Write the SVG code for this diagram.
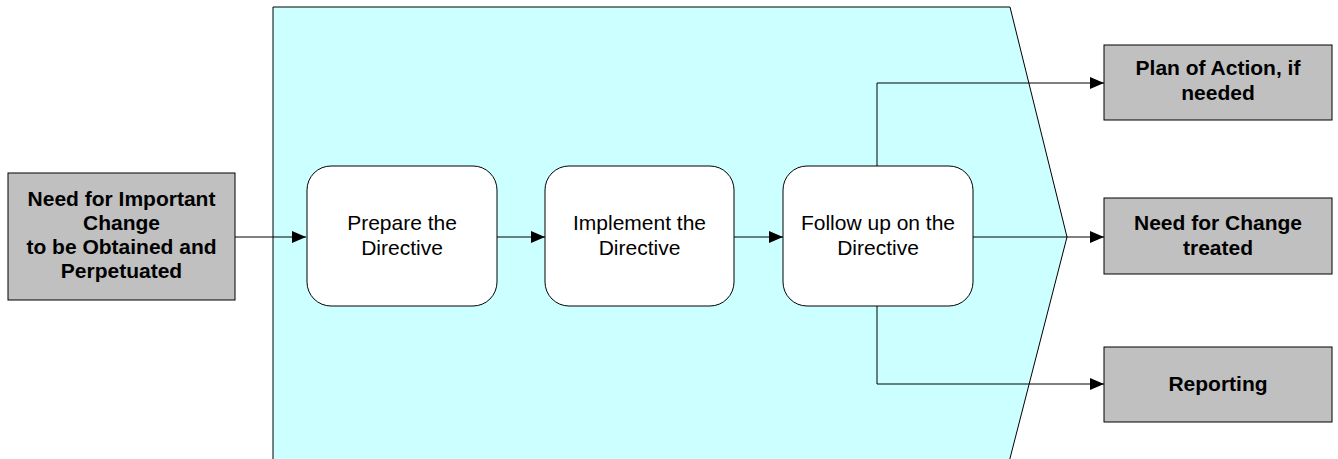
<svg xmlns="http://www.w3.org/2000/svg" width="1338" height="459" viewBox="0 0 1338 459">
<defs>
<style>
.io{fill:#C0C0C0;stroke:#000;stroke-width:1}
.bt{font-family:"Liberation Sans",Arial,sans-serif;font-weight:bold;font-size:21px;fill:#000;text-anchor:middle}
.pr{fill:#fff;stroke:#000;stroke-width:1}
.rt{font-family:"Liberation Sans",Arial,sans-serif;font-size:21px;fill:#000;text-anchor:middle}
.cn{fill:none;stroke:#000;stroke-width:1}
</style>
<marker id="ah" markerWidth="14" markerHeight="12" refX="14" refY="6" orient="auto" markerUnits="userSpaceOnUse">
<path d="M0,0 L14,6 L0,12 Z" fill="#000"/>
</marker>
</defs>
<rect width="1338" height="459" fill="#fff"/>
<g id="process-area">
<path d="M273,470 L273,7 L1010,7 L1067,237 L1007,470" fill="#CCFFFF" stroke="#000" stroke-width="1"/>
</g>
<g id="connectors">
<line class="cn" x1="235" y1="237" x2="306" y2="237" marker-end="url(#ah)"/>
<line class="cn" x1="497" y1="237" x2="545" y2="237" marker-end="url(#ah)"/>
<line class="cn" x1="734" y1="237" x2="783" y2="237" marker-end="url(#ah)"/>
<line class="cn" x1="973" y1="237" x2="1104" y2="237" marker-end="url(#ah)"/>
<polyline class="cn" points="877,166 877,83 1104,83" marker-end="url(#ah)"/>
<polyline class="cn" points="877,306 877,384 1104,384" marker-end="url(#ah)"/>
</g>
<g id="need-important-change">
<rect class="io" x="8" y="173" width="227" height="127"/>
<text class="bt" x="121.5" y="206">Need for Important</text>
<text class="bt" x="121.5" y="230">Change</text>
<text class="bt" x="121.5" y="254">to be Obtained and</text>
<text class="bt" x="121.5" y="278">Perpetuated</text>
</g>
<g id="prepare">
<rect class="pr" x="307" y="166" width="190" height="140" rx="24" ry="24"/>
<text class="rt" x="402" y="230">Prepare the</text>
<text class="rt" x="402" y="255">Directive</text>
</g>
<g id="implement">
<rect class="pr" x="545" y="166" width="189" height="140" rx="24" ry="24"/>
<text class="rt" x="639.5" y="230">Implement the</text>
<text class="rt" x="639.5" y="255">Directive</text>
</g>
<g id="follow-up">
<rect class="pr" x="783" y="166" width="190" height="140" rx="24" ry="24"/>
<text class="rt" x="878" y="230">Follow up on the</text>
<text class="rt" x="878" y="255">Directive</text>
</g>
<g id="plan-of-action">
<rect class="io" x="1104" y="45" width="228" height="75"/>
<text class="bt" x="1218" y="75">Plan of Action, if</text>
<text class="bt" x="1218" y="100">needed</text>
</g>
<g id="need-treated">
<rect class="io" x="1104" y="198" width="228" height="76"/>
<text class="bt" x="1218" y="230">Need for Change</text>
<text class="bt" x="1218" y="255">treated</text>
</g>
<g id="reporting">
<rect class="io" x="1104" y="347" width="228" height="75"/>
<text class="bt" x="1218" y="391">Reporting</text>
</g>
</svg>
